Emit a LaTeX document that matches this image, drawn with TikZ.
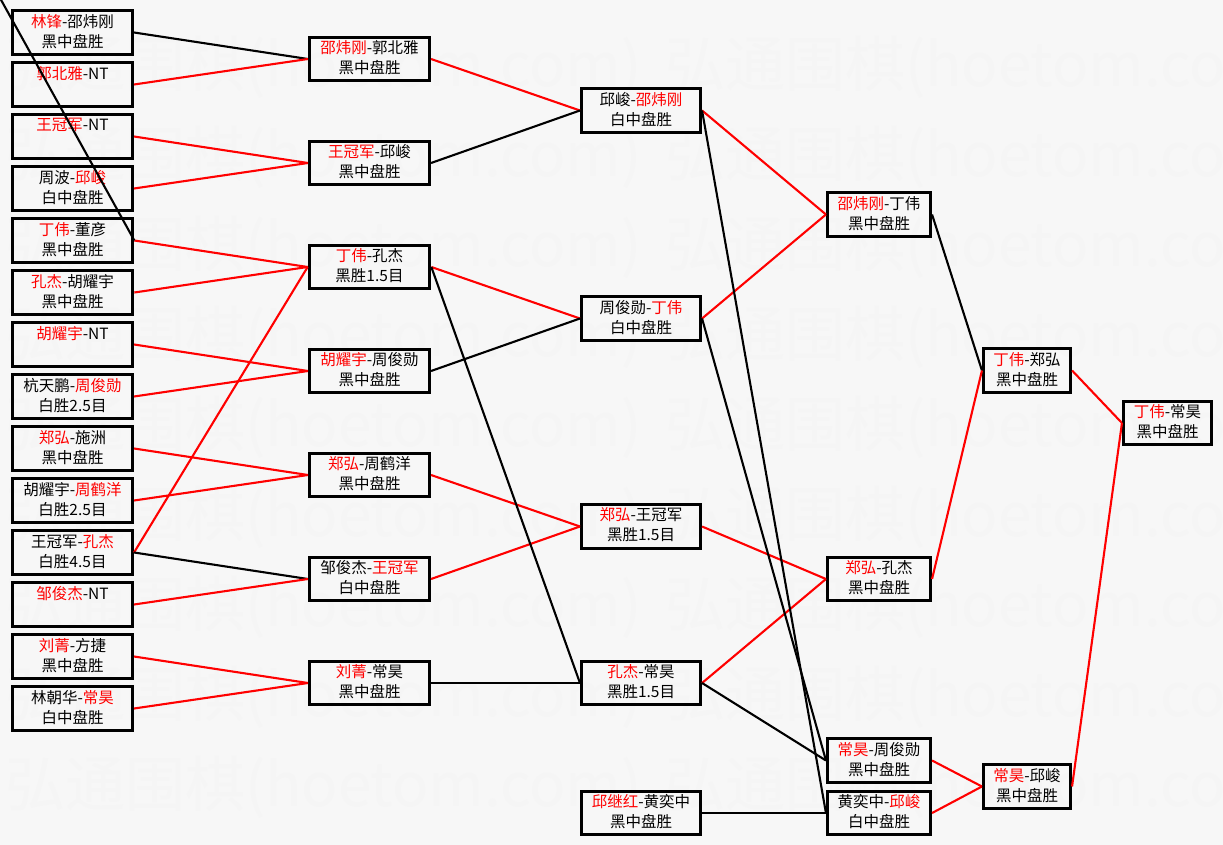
\documentclass[tikz,border=0pt]{standalone}
\usepackage{fontspec}
\newfontfamily\cjk{Noto Sans CJK SC}
\newcommand\R[1]{\textcolor{red}{#1}}
\newcommand\zs{\rule[-4pt]{0pt}{16pt}}
\newcommand\tl[2]{#1\zs\\#2\zs}
\tikzset{
  box/.style={draw=black, line width=2.6pt, inner sep=0pt, align=center,
    font=\cjk\fontsize{15.5}{20}\selectfont, minimum height=43.5pt},
  thick box/.style={line width=3.2pt},
  c1/.style={box, minimum width=120.5pt},
  c2/.style={box, minimum width=120.5pt},
  c3/.style={box, minimum width=119.5pt},
  c4/.style={box, minimum width=103.5pt},
  c5/.style={box, minimum width=87.5pt},
  c6/.style={box, minimum width=88.5pt},
  win/.style={draw=red, line width=2.1pt},
  lose/.style={draw=black, line width=2.1pt},
  wm/.style={anchor=west, inner sep=0pt, text=black!4,
    font=\cjk\fontsize{60}{60}\selectfont},
}
\begin{document}
\begin{tikzpicture}[x=1pt, y=-1pt]
\useasboundingbox (0,0) rectangle (1223,845);
\fill[white!97!black] (0,0) rectangle (1223,845);
\begin{scope}
  \clip (0,0) rectangle (1223,845);
  \foreach \y in {67,157,...,787} {
    \node[wm] (wma\y) at (5,\y) {弘通围棋(hoetom.com)};
    \node[wm] (wmb\y) at (665,\y) {弘通围棋(hoetom.com)};
  }
\end{scope}
\coordinate (corner) at (0,-2);
% column 1
\node[c1] (b1)  at (72.5,32.5)  {\tl{\R{林锋}-邵炜刚}{黑中盘胜}};
\node[c1] (b2)  at (72.5,84.5)  {\tl{\R{郭北雅}-NT}{}};
\node[c1] (b3)  at (72.5,136.5) {\tl{\R{王冠军}-NT}{}};
\node[c1] (b4)  at (72.5,188.5) {\tl{周波-\R{邱峻}}{白中盘胜}};
\node[c1,thick box] (b5)  at (72.5,240.5) {\tl{\R{丁伟}-董彦}{黑中盘胜}};
\node[c1,thick box] (b6)  at (72.5,292.5) {\tl{\R{孔杰}-胡耀宇}{黑中盘胜}};
\node[c1] (b7)  at (72.5,344.5) {\tl{\R{胡耀宇}-NT}{}};
\node[c1] (b8)  at (72.5,396.5) {\tl{杭天鹏-\R{周俊勋}}{白胜2.5目}};
\node[c1] (b9)  at (72.5,448.5) {\tl{\R{郑弘}-施洲}{黑中盘胜}};
\node[c1] (b10) at (72.5,500.5) {\tl{胡耀宇-\R{周鹤洋}}{白胜2.5目}};
\node[c1] (b11) at (72.5,552.5) {\tl{王冠军-\R{孔杰}}{白胜4.5目}};
\node[c1] (b12) at (72.5,604.5) {\tl{\R{邹俊杰}-NT}{}};
\node[c1] (b13) at (72.5,656.5) {\tl{\R{刘菁}-方捷}{黑中盘胜}};
\node[c1] (b14) at (72.5,708.5) {\tl{林朝华-\R{常昊}}{白中盘胜}};
% column 2
\node[c2] (A) at (369.5,59)  {\tl{\R{邵炜刚}-郭北雅}{黑中盘胜}};
\node[c2] (B) at (369.5,163) {\tl{\R{王冠军}-邱峻}{黑中盘胜}};
\node[c2,thick box] (C) at (369.5,267) {\tl{\R{丁伟}-孔杰}{黑胜1.5目}};
\node[c2] (D) at (369.5,371) {\tl{\R{胡耀宇}-周俊勋}{黑中盘胜}};
\node[c2] (E) at (369.5,475) {\tl{\R{郑弘}-周鹤洋}{黑中盘胜}};
\node[c2] (F) at (369.5,579) {\tl{邹俊杰-\R{王冠军}}{白中盘胜}};
\node[c2] (G) at (369.5,683) {\tl{\R{刘菁}-常昊}{黑中盘胜}};
% column 3
\node[c3] (H) at (641,110.5) {\tl{邱峻-\R{邵炜刚}}{白中盘胜}};
\node[c3] (I) at (641,318.5) {\tl{周俊勋-\R{丁伟}}{白中盘胜}};
\node[c3] (J) at (641,526.5) {\tl{\R{郑弘}-王冠军}{黑胜1.5目}};
\node[c3] (K) at (641,683)   {\tl{\R{孔杰}-常昊}{黑胜1.5目}};
\node[c3] (L) at (641,813)   {\tl{\R{邱继红}-黄奕中}{黑中盘胜}};
% column 4
\node[c4] (M) at (879,214.5) {\tl{\R{邵炜刚}-丁伟}{黑中盘胜}};
\node[c4] (N) at (879,579)   {\tl{\R{郑弘}-孔杰}{黑中盘胜}};
\node[c4] (O) at (879,760.5) {\tl{\R{常昊}-周俊勋}{黑中盘胜}};
\node[c4] (P) at (879,813)   {\tl{黄奕中-\R{邱峻}}{白中盘胜}};
% column 5
\node[c5] (Q) at (1027,370.5) {\tl{\R{丁伟}-郑弘}{黑中盘胜}};
\node[c5] (Rr) at (1027,786.5) {\tl{\R{常昊}-邱峻}{黑中盘胜}};
% column 6
\node[c6] (S) at (1167.5,423) {\tl{\R{丁伟}-常昊}{黑中盘胜}};
% connectors column 1 -> 2
\draw[lose] (b1.east) -- (A.west);
\draw[win]  (b2.east) -- (A.west);
\draw[win]  (b3.east) -- (B.west);
\draw[win]  (b4.east) -- (B.west);
\draw[win]  (b5.east) -- (C.west);
\draw[win]  (b6.east) -- (C.west);
\draw[win]  (b7.east) -- (D.west);
\draw[win]  (b8.east) -- (D.west);
\draw[win]  (b9.east) -- (E.west);
\draw[win]  (b10.east) -- (E.west);
\draw[win]  (b11.east) -- (C.west);
\draw[lose] (b11.east) -- (F.west);
\draw[win]  (b12.east) -- (F.west);
\draw[win]  (b13.east) -- (G.west);
\draw[win]  (b14.east) -- (G.west);
\draw[lose] (corner) -- (b5.east);
% column 2 -> 3
\draw[win]  (A.east) -- (H.west);
\draw[lose] (B.east) -- (H.west);
\draw[win]  (C.east) -- (I.west);
\draw[lose] (D.east) -- (I.west);
\draw[win]  (E.east) -- (J.west);
\draw[win]  (F.east) -- (J.west);
\draw[lose] (G.east) -- (K.west);
\draw[lose] (C.east) -- (K.west);
% column 3 -> 4
\draw[win]  (H.east) -- (M.west);
\draw[win]  (I.east) -- (M.west);
\draw[win]  (J.east) -- (N.west);
\draw[win]  (K.east) -- (N.west);
\draw[lose] (H.east) -- (P.west);
\draw[lose] (I.east) -- (O.west);
\draw[lose] (K.east) -- (O.west);
\draw[lose] (L.east) -- (P.west);
% column 4 -> 5
\draw[lose] (M.east) -- (Q.west);
\draw[win]  (N.east) -- (Q.west);
\draw[win]  (O.east) -- (Rr.west);
\draw[win]  (P.east) -- (Rr.west);
% column 5 -> 6
\draw[win]  (Q.east) -- (S.west);
\draw[win]  (Rr.east) -- (S.west);
\end{tikzpicture}
\end{document}
